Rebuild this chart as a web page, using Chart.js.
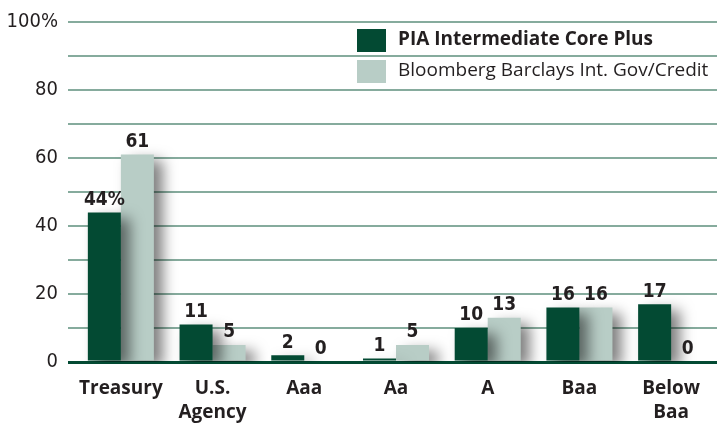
<!DOCTYPE html>
<html>
<head>
<meta charset="utf-8">
<script src="https://cdn.jsdelivr.net/npm/chart.js@4/dist/chart.umd.min.js"></script>
<style>
  html, body { margin: 0; padding: 0; background: #fff; }
  #wrap { width: 719px; height: 423px; }
</style>
</head>
<body>
<div id="wrap"><canvas id="chart" width="719" height="423"></canvas></div>
<script>
// Quality breakdown data
const categories = ["Treasury", ["U.S.", "Agency"], "Aaa", "Aa", "A", "Baa", ["Below", "Baa"]];
const piaValues = [44, 11, 2, 1, 10, 16, 17];
const indexValues = [61, 5, 0, 5, 13, 16, 0];
const seriesNames = ["PIA Intermediate Core Plus", "Bloomberg Barclays Int. Gov/Credit"];
const yTickLabels = { 100: "100%", 80: "80", 60: "60", 40: "40", 20: "20", 0: "0" };

const DARK = "#034a33";
const LIGHT = "#b8cdc6";
const GRID = "#86ab9d";
const TEXT = "#231f20";
const NARROW = "'Liberation Sans Narrow', 'DejaVu Sans Condensed', sans-serif";

// Drop shadow behind bars
const barShadow = {
  id: "barShadow",
  beforeDatasetDraw(chart) {
    const ctx = chart.ctx;
    ctx.save();
    ctx.shadowColor = "rgba(0,0,0,0.5)";
    ctx.shadowBlur = 14;
    ctx.shadowOffsetX = 9;
    ctx.shadowOffsetY = 6;
  },
  afterDatasetDraw(chart) {
    chart.ctx.restore();
  }
};

// Value labels above bars
const valueLabels = {
  id: "valueLabels",
  afterDatasetsDraw(chart) {
    const ctx = chart.ctx;
    ctx.save();
    ctx.font = "bold 19px " + NARROW;
    ctx.fillStyle = TEXT;
    ctx.textAlign = "center";
    ctx.textBaseline = "bottom";
    chart.data.datasets.forEach((ds, i) => {
      chart.getDatasetMeta(i).data.forEach((bar, j) => {
        let txt = String(ds.data[j]);
        if (i === 0 && j === 0) txt += "%";
        ctx.fillText(txt, bar.x, bar.y - 3);
      });
    });
    ctx.restore();
  }
};

// Legend in the upper right
const boxLegend = {
  id: "boxLegend",
  afterDraw(chart) {
    const ctx = chart.ctx;
    ctx.save();
    ctx.textBaseline = "middle";
    ctx.textAlign = "left";
    chart.data.datasets.forEach((ds, i) => {
      const y = 29 + i * 31;
      ctx.fillStyle = ds.backgroundColor;
      ctx.fillRect(357, y, 29, 23);
      ctx.fillStyle = TEXT;
      ctx.font = (i === 0 ? "bold " : "") + "19px 'Open Sans', sans-serif";
      ctx.fillText(ds.label, 398, y + 11);
    });
    ctx.restore();
  }
};

new Chart(document.getElementById("chart"), {
  type: "bar",
  data: {
    labels: categories,
    datasets: [
      { label: seriesNames[0], data: piaValues, backgroundColor: DARK },
      { label: seriesNames[1], data: indexValues, backgroundColor: LIGHT }
    ]
  },
  options: {
    responsive: false,
    animation: false,
    layout: { padding: { top: 21, right: 2, left: 0, bottom: 0 } },
    datasets: {
      bar: { categoryPercentage: 0.72, barPercentage: 1.0 }
    },
    plugins: {
      legend: { display: false },
      tooltip: { enabled: false }
    },
    scales: {
      x: {
        grid: { display: false },
        border: { display: false },
        ticks: {
          color: TEXT,
          font: { family: "'Open Sans', sans-serif", weight: "bold", size: 19, lineHeight: 1.3 },
          padding: 6,
          maxRotation: 0
        },
        afterFit(scale) { scale.height = 61; }
      },
      y: {
        min: 0,
        max: 100,
        border: { display: false },
        grid: {
          drawTicks: true,
          tickLength: 7,
          color: (c) => (c.tick.value === 0 ? DARK : GRID),
          lineWidth: (c) => (c.tick.value === 0 ? 3 : 2)
        },
        ticks: {
          stepSize: 10,
          color: TEXT,
          padding: 10,
          font: { family: NARROW, size: 20 },
          callback: (v) => (yTickLabels[v] !== undefined ? yTickLabels[v] : "")
        },
        afterFit(scale) { scale.width = 75; }
      }
    }
  },
  plugins: [barShadow, valueLabels, boxLegend]
});
</script>
</body>
</html>
